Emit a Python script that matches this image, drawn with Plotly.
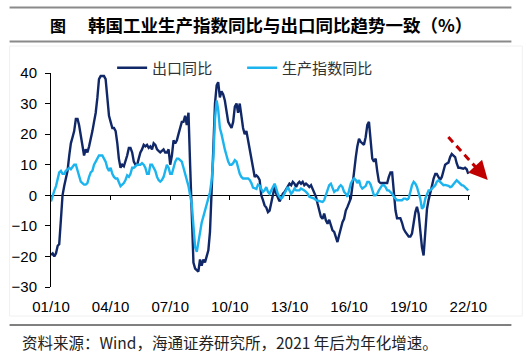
import pandas as pd
import plotly.graph_objects as go

# ---------------- data (monthly, 2001/10 – 2022/10) ----------------
start_month = "2001-10-01"

export_yoy = [
    -19.5, -19, -20, -19, -16.5, -16, -8, 0, 3, 5,
    8, 13, 17, 19, 21, 25, 25, 23, 20, 17,
    13, 15, 14, 16, 18, 21, 24, 27, 32, 38,
    39, 39, 39, 38, 32, 26, 24, 22, 22, 21,
    17, 12, 9, 10, 9.5, 11, 13, 15.5, 15.5, 14,
    11, 10, 10, 12, 14, 15, 16.5, 16, 16.5, 15.5,
    16, 15, 17, 16.5, 15, 14.5, 14, 14.5, 15, 14,
    14, 15, 10, 13, 18, 17, 18, 20, 22, 24,
    24, 26, 23, 27, 10, -5, -22, -24, -24.5, -25,
    -21, -23, -21, -22, -20, -18, -12, 0, 15, 30,
    36, 37, 32, 34, 33, 31, 28, 24, 23, 22,
    24, 29, 30, 27, 30, 25, 22, 20, 21, 18,
    15, 11, 8, 6, 6.5, 6, 5, 0, -1.6, -3.3,
    -4, -5.5, -5, -2.7, -0.5, 2.7, 0.5, -1, -2, -1,
    0.5, 1, 2, 2.7, 3.8, 3.3, 4.4, 3.8, 2.7, 3.8,
    4.4, 3.8, 4.4, 3.3, 3.8, 3.3, 2.7, 3.3, 2.2, 1,
    -0.5, -2.7, -5, -7, -7.7, -6, -8.2, -9.3, -8, -9.9,
    -11.5, -12, -13.7, -15.3, -13, -10.4, -8.8, -7.7, -5, -3.8,
    -2.2, -1, 3, 9, 12.5, 16, 18.5, 17.5, 17, 16.5,
    19, 23, 24, 19, 12, 11, 12, 8, 4.5, 4,
    4, 4, 4, 4, 6, 7.5, 7.5, 2, -5, -7.5,
    -7.5, -7.5, -9, -11, -12, -13, -13.5, -13.5, -12.5, -9,
    -5.5, -3.8, -6, -11.5, -17, -19.7, -10, -4.5, -1.5, 0.5,
    3, 5.5, 7, 7, 6, 5, 6, 8, 10, 10.4,
    10.7, 12.5, 13.5, 13, 12.5, 10.5, 9, 9, 8.8, 8.7,
    9, 8.5, 7,
]

production_yoy = [
    -2, 0, 1.5, 3, 5, 7.5, 8, 7, 7, 8,
    8.5, 9, 8.5, 9.5, 10, 10, 8, 6, 4.5, 4,
    3.5, 3.5, 4, 6, 7.5, 8, 10, 11, 12, 13,
    13, 13, 12, 11, 9, 8, 9, 7, 6, 5.5,
    5.5, 4, 3, 3.5, 4, 5, 6.5, 6, 7, 9,
    9, 9.5, 10, 10, 10, 10.5, 10, 9, 7, 7,
    10, 10, 9, 8, 6, 5, 4.5, 5, 6, 8,
    10, 9, 7, 7, 9, 11, 12, 12, 11.5, 11,
    9, 7, 5, 3, 0, -3, -10, -17, -18.5, -15,
    -12, -9, -7, -5, -3, -1, 1, 5, 12, 25,
    31, 28, 22, 20, 17, 15, 13, 11, 10, 10,
    10.5, 11.5, 11, 9, 7, 6, 5.5, 5.5, 5.5, 5.5,
    5, 4, 2.5, 2.3, 2.1, 3.5, 3.2, 2, 1.1, 1.6,
    2.7, 1.1, 0.5, 1.6, 2.7, 3.8, 2.2, 0.5, -0.5, -1.1,
    -0.5, 0.5, 1.6, 2.7, 1.6, 0.5, 1.1, 2.2, 1.6, 1.5,
    1.6, 2.2, 2, 1.6, 1.1, 0.5, -0.5, -0.7, -1.1, -1.1,
    -1.6, -1.8, -1.9, -2, -2.2, -1.6, 0, 1.6, 3.3, 3.8,
    2.2, 1.1, 1.6, 1.6, 2.7, 3.3, 2.7, 1.1, 0.5, -0.5,
    1.6, 3.8, 4.9, 5.5, 5, 4, 5, 3, 2.2, 2.5,
    3, 4.4, 4.4, 3.5, 1.5, 0, 0, 0.5, 1.6, 2.7,
    3.3, 3.3, 2.7, 1.6, 1.6, 1, 0.5, -0.5, -1.1, -1.6,
    -1.6, -1.6, -1.6, -1.1, -1.1, -1.4, -1, 1.1, 3.3, 4.4,
    3.8, 2.7, 1.1, -1.1, -4.4, -3.8, -1.1, 0, 1.6, 1.6,
    2.2, 2.7, 3.3, 4.4, 4.9, 4.4, 3.8, 3.3, 3.4, 3.3,
    3.1, 2.7, 2.9, 3.6, 4.4, 4.9, 4.4, 3.8, 3.3, 3.2,
    2.7, 2.2, 1.6,
]

series_names = ["出口同比", "生产指数同比"]
tick_dates = ["2001-10-01", "2004-10-01", "2007-10-01", "2010-10-01",
              "2013-10-01", "2016-10-01", "2019-10-01", "2022-10-01"]
tick_labels = ["01/10", "04/10", "07/10", "10/10", "13/10", "16/10", "19/10", "22/10"]
y_ticks = [-30, -20, -10, 0, 10, 20, 30, 40]

title_prefix = "图"
title_text = "韩国工业生产指数同比与出口同比趋势一致（%）"
source_text = "资料来源：Wind，海通证券研究所，2021 年后为年化增速。"

dates = pd.date_range(start_month, periods=len(export_yoy), freq="MS")

# ---------------- layout geometry (pixels) ----------------
W, H = 526, 357
L, R, T, B = 45, 470, 73, 287
Y_MIN, Y_MAX = -30, 40
X_RANGE = ["2001-10-01", "2022-11-01"]


def px(xp):
    return (xp - L) / (R - L)


def py(yp):
    return (B - yp) / (B - T)


DARK = "#112868"
LIGHT = "#1BB4EE"
CJK = "Noto Sans CJK SC"
LAT = "Liberation Sans, Arial"

fig = go.Figure()
fig.add_trace(go.Scatter(x=dates, y=export_yoy, mode="lines", name=series_names[0],
                         line=dict(color=DARK, width=2.4)))
fig.add_trace(go.Scatter(x=dates, y=production_yoy, mode="lines", name=series_names[1],
                         line=dict(color=LIGHT, width=2.4)))
# carrier for the zero-line axis
fig.add_trace(go.Scatter(x=[], y=[], xaxis="x2", yaxis="y", showlegend=False,
                         hoverinfo="skip"))

fig.update_layout(
    width=W, height=H,
    margin=dict(l=L, r=W - R, t=T, b=H - B, pad=0),
    paper_bgcolor="white", plot_bgcolor="white",
    font=dict(family=LAT, size=15, color="#000000"),
    showlegend=True,
    legend=dict(orientation="h", x=px(107), y=py(68), xanchor="left", yanchor="middle",
                font=dict(family=CJK, size=15, color="#333333"),
                bgcolor="rgba(0,0,0,0)", itemwidth=30, tracegroupgap=0,
                entrywidth=85, entrywidthmode="pixels"),
    xaxis=dict(type="date", range=X_RANGE, showgrid=False, zeroline=False,
               showline=False, ticks="", tickvals=tick_dates, ticktext=tick_labels,
               ticklabelstandoff=9, tickfont=dict(family=LAT, size=15, color="#000")),
    xaxis2=dict(type="date", range=X_RANGE, overlaying="x", anchor="free",
                position=(0 - Y_MIN) / (Y_MAX - Y_MIN), side="bottom",
                showgrid=False, zeroline=False, showline=True, linecolor="#000",
                linewidth=1, ticks="outside", ticklen=4, tickcolor="#000",
                tickvals=tick_dates, showticklabels=False, layer="below traces"),
    yaxis=dict(range=[Y_MIN, Y_MAX], tickvals=y_ticks, showgrid=False, zeroline=False,
               showline=True, linecolor="#000", linewidth=1, ticks="outside",
               ticklen=5, tickcolor="#000", ticklabelstandoff=5,
               tickfont=dict(family=LAT, size=15, color="#000")),
)

shapes = [
    # top rule and rule under the title
    dict(type="line", xref="paper", yref="paper", x0=px(3), x1=px(512), y0=py(7.5), y1=py(7.5),
         line=dict(color="#8A8A8A", width=2)),
    dict(type="line", xref="paper", yref="paper", x0=px(3), x1=px(512), y0=py(41.5), y1=py(41.5),
         line=dict(color="#8A8A8A", width=2)),
    # bottom rule above the source
    dict(type="line", xref="paper", yref="paper", x0=px(3), x1=px(512), y0=py(325), y1=py(325),
         line=dict(color="#000000", width=1)),
    # faint chart frame
    dict(type="rect", xref="paper", yref="paper", x0=px(3), x1=px(523), y0=py(46), y1=py(316),
         line=dict(color="#F0F0F0", width=1), layer="below"),
    # red dashed trend arrow shaft
    dict(type="line", xref="paper", yref="paper", x0=px(448), y0=py(137), x1=px(478), y1=py(169.5),
         line=dict(color="#C00000", width=3, dash="7px,5px")),
]
fig.update_layout(shapes=shapes)

annotations = [
    dict(xref="paper", yref="paper", x=px(42), y=py(25), xanchor="left", yanchor="middle",
         text="<b>" + title_prefix + "</b>", showarrow=False,
         font=dict(family=CJK, size=16, color="#000")),
    dict(xref="paper", yref="paper", x=px(81), y=py(25), xanchor="left", yanchor="middle",
         text="<b>" + title_text + "</b>", showarrow=False,
         font=dict(family=CJK, size=17.5, color="#000")),
    dict(xref="paper", yref="paper", x=px(14), y=py(342), xanchor="left", yanchor="middle",
         text=source_text, showarrow=False,
         font=dict(family=CJK, size=15.5, color="#222")),
    # arrow head
    dict(xref="paper", yref="paper", x=px(488), y=py(180), ax=-10, ay=-11,
         axref="pixel", ayref="pixel", text="", showarrow=True, arrowhead=2,
         arrowsize=1.25, arrowwidth=3, arrowcolor="#C00000"),
]
fig.update_layout(annotations=annotations)

fig.write_html("out.html", config={"displayModeBar": False},
               post_script="document.body.style.margin='0';")
